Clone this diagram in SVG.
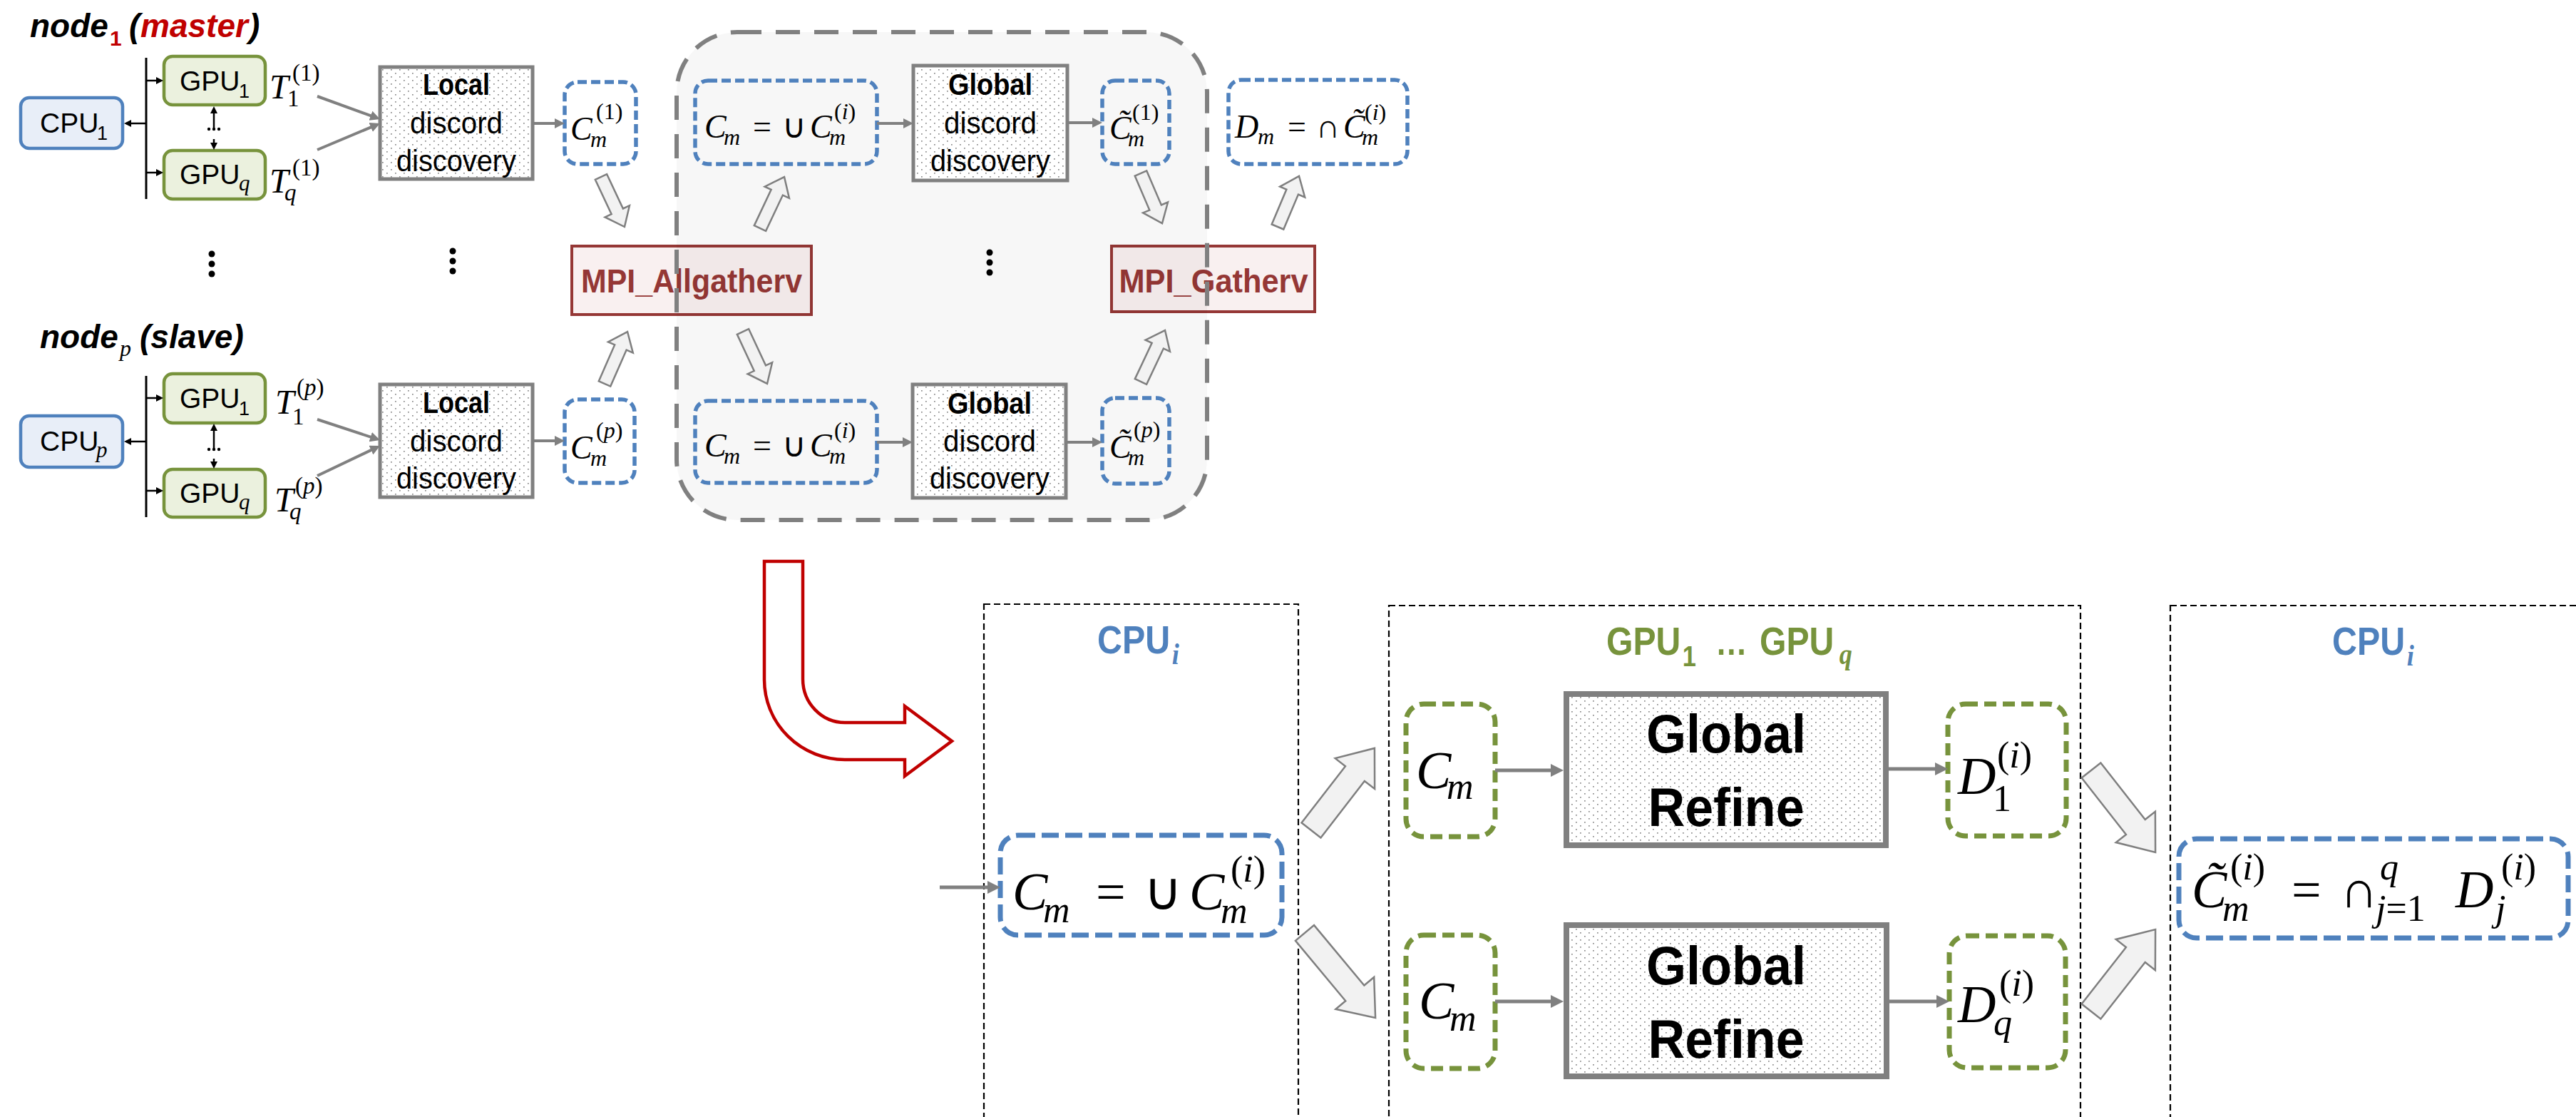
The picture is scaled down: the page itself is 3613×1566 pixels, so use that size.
<svg xmlns="http://www.w3.org/2000/svg" width="3613" height="1566" viewBox="0 0 3613 1566">
<defs>
<style>
.sans{font-family:"Liberation Sans",Arial,sans-serif}
.m{font-family:"Liberation Serif","Times New Roman",serif;font-style:italic}
.u{font-style:normal}
.b{font-weight:bold}
.cpu{fill:#e8eef8;stroke:#4f81bd;stroke-width:4.5}
.gpu{fill:#ebf1de;stroke:#77933c;stroke-width:4.5}
.proc{fill:url(#dots);stroke:#808080;stroke-width:5}
.procL{fill:url(#dots);stroke:#808080;stroke-width:8}
.setb{fill:none;stroke:#4f81bd;stroke-width:5.5;stroke-dasharray:13 6}
.setbL{fill:#fff;stroke:#4f81bd;stroke-width:7;stroke-dasharray:24 9}
.setg{fill:#fff;stroke:#77933c;stroke-width:7;stroke-dasharray:17 9}
.mpi{fill:#f9f0f0;stroke:#953735;stroke-width:4}
.mpit{fill:#953735;font-weight:bold;font-size:46px}
.panel{fill:none;stroke:#000;stroke-width:2.2;stroke-dasharray:9 5}
.blk{fill:#f2f2f2;stroke:#7f7f7f;stroke-width:2.5}
.cg{stroke:#808080;stroke-width:4;fill:none;marker-end:url(#ag)}
.cgL{stroke:#808080;stroke-width:5;fill:none;marker-end:url(#agL)}
.ck{stroke:#000;stroke-width:2.5;fill:none;marker-end:url(#ab)}
.dot{fill:#000}
</style>
<pattern id="dots" width="12" height="10" patternUnits="userSpaceOnUse">
<rect width="12" height="10" fill="#fff"/>
<rect x="2" y="2" width="1.7" height="1.7" fill="#8a8a8a"/>
<rect x="8" y="7" width="1.7" height="1.7" fill="#8a8a8a"/>
</pattern>
<marker id="ag" viewBox="0 0 14 14" markerWidth="14" markerHeight="14" refX="8" refY="7" orient="auto" markerUnits="userSpaceOnUse"><path d="M0,0L14,7L0,14Z" fill="#808080"/></marker>
<marker id="agL" viewBox="0 0 18 18" markerWidth="18" markerHeight="18" refX="11" refY="9" orient="auto" markerUnits="userSpaceOnUse"><path d="M0,0L18,9L0,18Z" fill="#808080"/></marker>
<marker id="ab" viewBox="0 0 10 10" markerWidth="10" markerHeight="10" refX="7" refY="5" orient="auto-start-reverse" markerUnits="userSpaceOnUse"><path d="M0,0L10,5L0,10Z" fill="#000"/></marker>
</defs>
<rect width="3613" height="1566" fill="#fff"/>

<!-- node 1 (master) -->
<g id="node1">
<text class="sans b" font-style="italic" font-size="46" y="52"><tspan x="42">node</tspan><tspan x="154" y="64" font-size="30" font-style="normal" fill="#c00000">1</tspan><tspan x="181" y="52">(</tspan><tspan x="197" fill="#c00000">master</tspan><tspan x="349">)</tspan></text>
<line x1="205" y1="81" x2="205" y2="279" stroke="#000" stroke-width="3"/>
<rect class="cpu" x="29" y="137" width="143" height="71" rx="12"/>
<text class="sans" font-size="39" y="186"><tspan x="56">CPU</tspan><tspan x="136" y="196" font-size="27">1</tspan></text>
<rect class="gpu" x="230" y="79" width="142" height="68" rx="12"/>
<text class="sans" font-size="39" y="127"><tspan x="252">GPU</tspan><tspan x="335" y="137" font-size="27">1</tspan></text>
<rect class="gpu" x="230" y="211" width="142" height="68" rx="12"/>
<text class="sans" font-size="39" y="258"><tspan x="252">GPU</tspan><tspan class="m" x="335" y="267" font-size="31">q</tspan></text>
<line class="ck" x1="205" y1="173" x2="177" y2="173"/>
<line class="ck" x1="205" y1="113" x2="226" y2="113"/>
<line class="ck" x1="205" y1="242" x2="226" y2="242"/>
<line class="ck" x1="300" y1="152" x2="300" y2="207" marker-start="url(#ab)"/>
<rect x="277" y="183" width="46" height="12" fill="#fff"/>
<circle class="dot" cx="293" cy="181" r="2.2"/><circle class="dot" cx="300" cy="181" r="2.2"/><circle class="dot" cx="307" cy="181" r="2.2"/>
<text class="m" font-size="48"><tspan x="378" y="138">T</tspan><tspan class="u" x="403" y="149" font-size="33">1</tspan><tspan class="u" x="410" y="113" font-size="33">(1)</tspan></text>
<text class="m" font-size="48"><tspan x="378" y="270">T</tspan><tspan x="399" y="281" font-size="33">q</tspan><tspan class="u" x="410" y="246" font-size="33">(1)</tspan></text>
</g>

<g id="local1">
<rect class="proc" x="533" y="94" width="214" height="157"/>
<text class="sans b" font-size="42" x="640" y="133" text-anchor="middle" textLength="94" lengthAdjust="spacingAndGlyphs">Local</text>
<text class="sans" font-size="42" x="640" y="187" text-anchor="middle" textLength="130" lengthAdjust="spacingAndGlyphs">discord</text>
<text class="sans" font-size="42" x="640" y="240" text-anchor="middle" textLength="168" lengthAdjust="spacingAndGlyphs">discovery</text>
</g>

<g id="cand1">
<rect class="setb" x="792" y="115" width="100" height="115" rx="18"/>
<text class="m" font-size="46"><tspan x="800" y="196">C</tspan><tspan x="828" y="206" font-size="32">m</tspan><tspan class="u" x="836" y="167" font-size="32">(1)</tspan></text>
</g>

<!-- node p (slave) -->
<g id="nodep">
<text class="sans b" font-style="italic" font-size="46" y="488"><tspan x="56">node</tspan><tspan class="m" font-weight="normal" x="168" y="499" font-size="32">p</tspan><tspan x="196" y="488">(slave)</tspan></text>
<line x1="205" y1="527" x2="205" y2="725" stroke="#000" stroke-width="3"/>
<rect class="cpu" x="29" y="583" width="143" height="72" rx="12"/>
<text class="sans" font-size="39" y="632"><tspan x="56">CPU</tspan><tspan class="m" x="135" y="641" font-size="31">p</tspan></text>
<rect class="gpu" x="230" y="524" width="142" height="69" rx="12"/>
<text class="sans" font-size="39" y="572"><tspan x="252">GPU</tspan><tspan x="335" y="582" font-size="27">1</tspan></text>
<rect class="gpu" x="230" y="658" width="142" height="67" rx="12"/>
<text class="sans" font-size="39" y="705"><tspan x="252">GPU</tspan><tspan class="m" x="335" y="714" font-size="31">q</tspan></text>
<line class="ck" x1="205" y1="619" x2="177" y2="619"/>
<line class="ck" x1="205" y1="558" x2="226" y2="558"/>
<line class="ck" x1="205" y1="688" x2="226" y2="688"/>
<line class="ck" x1="300" y1="597" x2="300" y2="654" marker-start="url(#ab)"/>
<rect x="277" y="632" width="46" height="11" fill="#fff"/>
<circle class="dot" cx="293" cy="630" r="2.2"/><circle class="dot" cx="300" cy="630" r="2.2"/><circle class="dot" cx="307" cy="630" r="2.2"/>
<text class="m" font-size="48"><tspan x="386" y="580">T</tspan><tspan class="u" x="410" y="595" font-size="33">1</tspan><tspan x="416" y="554" font-size="33"><tspan class="u">(</tspan>p<tspan class="u">)</tspan></tspan></text>
<text class="m" font-size="48"><tspan x="385" y="717">T</tspan><tspan x="406" y="728" font-size="33">q</tspan><tspan x="414" y="692" font-size="33"><tspan class="u">(</tspan>p<tspan class="u">)</tspan></tspan></text>
</g>

<g id="localp">
<rect class="proc" x="533" y="539" width="214" height="158"/>
<text class="sans b" font-size="42" x="640" y="579" text-anchor="middle" textLength="94" lengthAdjust="spacingAndGlyphs">Local</text>
<text class="sans" font-size="42" x="640" y="633" text-anchor="middle" textLength="130" lengthAdjust="spacingAndGlyphs">discord</text>
<text class="sans" font-size="42" x="640" y="685" text-anchor="middle" textLength="168" lengthAdjust="spacingAndGlyphs">discovery</text>
</g>

<g id="candp">
<rect class="setb" x="792" y="560" width="98" height="117" rx="18"/>
<text class="m" font-size="46"><tspan x="800" y="643">C</tspan><tspan x="828" y="653" font-size="32">m</tspan><tspan x="836" y="614" font-size="32"><tspan class="u">(</tspan>p<tspan class="u">)</tspan></tspan></text>
</g>

<!-- vertical ellipses between node rows -->
<g id="ellipses">
<circle class="dot" cx="297" cy="356" r="4.5"/><circle class="dot" cx="297" cy="370" r="4.5"/><circle class="dot" cx="297" cy="384" r="4.5"/>
<circle class="dot" cx="635" cy="352" r="4.5"/><circle class="dot" cx="635" cy="366" r="4.5"/><circle class="dot" cx="635" cy="380" r="4.5"/>
<circle class="dot" cx="1388" cy="354" r="4.5"/><circle class="dot" cx="1388" cy="368" r="4.5"/><circle class="dot" cx="1388" cy="382" r="4.5"/>
</g>

<!-- collective communication -->
<g id="allgatherv">
<rect class="mpi" x="802" y="345" width="336" height="96"/>
<text class="sans mpit" x="970" y="410" text-anchor="middle" textLength="310" lengthAdjust="spacingAndGlyphs">MPI_Allgatherv</text>
</g>
<g id="gatherv">
<rect class="mpi" x="1559" y="345" width="285" height="92"/>
<text class="sans mpit" x="1702" y="410" text-anchor="middle" textLength="265" lengthAdjust="spacingAndGlyphs">MPI_Gatherv</text>
</g>

<!-- global phase region -->
<g id="global-phase">
<rect x="949" y="45" width="744" height="684" rx="85" fill="#000" fill-opacity="0.03" stroke="#808080" stroke-width="6" stroke-dasharray="34 20"/>
</g>

<g id="union1">
<rect class="setb" x="975" y="113" width="255" height="117" rx="18"/>
<text class="m" font-size="46"><tspan x="988" y="193">C</tspan><tspan x="1015" y="203" font-size="32">m</tspan><tspan class="u" x="1056" y="193">=</tspan><tspan class="u" x="1097" y="193">∪</tspan><tspan x="1136" y="193">C</tspan><tspan x="1163" y="203" font-size="32">m</tspan><tspan x="1170" y="167" font-size="32"><tspan class="u">(</tspan>i<tspan class="u">)</tspan></tspan></text>
</g>
<g id="global1">
<rect class="proc" x="1281" y="92" width="216" height="161"/>
<text class="sans b" font-size="42" x="1389" y="133" text-anchor="middle" textLength="118" lengthAdjust="spacingAndGlyphs">Global</text>
<text class="sans" font-size="42" x="1389" y="187" text-anchor="middle" textLength="130" lengthAdjust="spacingAndGlyphs">discord</text>
<text class="sans" font-size="42" x="1389" y="240" text-anchor="middle" textLength="168" lengthAdjust="spacingAndGlyphs">discovery</text>
</g>
<g id="refined1">
<rect class="setb" x="1546" y="113" width="94" height="117" rx="18"/>
<text class="m" font-size="46"><tspan x="1556" y="195">C&#x303;</tspan><tspan x="1582" y="205" font-size="32">m</tspan><tspan class="u" x="1588" y="168" font-size="32">(1)</tspan></text>
</g>

<g id="unionp">
<rect class="setb" x="975" y="562" width="255" height="115" rx="18"/>
<text class="m" font-size="46"><tspan x="988" y="640">C</tspan><tspan x="1015" y="650" font-size="32">m</tspan><tspan class="u" x="1056" y="640">=</tspan><tspan class="u" x="1097" y="640">∪</tspan><tspan x="1136" y="640">C</tspan><tspan x="1163" y="650" font-size="32">m</tspan><tspan x="1170" y="614" font-size="32"><tspan class="u">(</tspan>i<tspan class="u">)</tspan></tspan></text>
</g>
<g id="globalp">
<rect class="proc" x="1280" y="539" width="215" height="159"/>
<text class="sans b" font-size="42" x="1388" y="580" text-anchor="middle" textLength="118" lengthAdjust="spacingAndGlyphs">Global</text>
<text class="sans" font-size="42" x="1388" y="633" text-anchor="middle" textLength="130" lengthAdjust="spacingAndGlyphs">discord</text>
<text class="sans" font-size="42" x="1388" y="685" text-anchor="middle" textLength="168" lengthAdjust="spacingAndGlyphs">discovery</text>
</g>
<g id="refinedp">
<rect class="setb" x="1546" y="558" width="94" height="120" rx="18"/>
<text class="m" font-size="46"><tspan x="1556" y="642">C&#x303;</tspan><tspan x="1582" y="652" font-size="32">m</tspan><tspan x="1590" y="613" font-size="32"><tspan class="u">(</tspan>p<tspan class="u">)</tspan></tspan></text>
</g>

<g id="discords">
<rect class="setb" x="1723" y="112" width="251" height="118" rx="18"/>
<text class="m" font-size="46"><tspan x="1732" y="193">D</tspan><tspan x="1764" y="202" font-size="32">m</tspan><tspan class="u" x="1806" y="193">=</tspan><tspan class="u" x="1846" y="193">∩</tspan><tspan x="1884" y="193">C&#x303;</tspan><tspan x="1910" y="203" font-size="32">m</tspan><tspan x="1914" y="168" font-size="32"><tspan class="u">(</tspan>i<tspan class="u">)</tspan></tspan></text>
</g>

<!-- expansion of one node's global step -->
<g id="zoom-arrow">
<path d="M1072,787V953A113,112 0 0 0 1185,1065H1269V1088L1335,1039L1269,990V1013H1185A59,61 0 0 1 1126,952V787Z" fill="#fff" stroke="#c00000" stroke-width="4.5" stroke-linejoin="miter"/>
</g>

<g id="panel-cpu-in">
<rect class="panel" x="1380" y="847" width="441" height="760"/>
<text class="sans b" font-size="56" fill="#4f81bd" transform="translate(1539,916) scale(0.865,1)">CPU<tspan class="m" font-size="42" x="121" y="15">i</tspan></text>
</g>
<g id="panel-gpu">
<rect class="panel" x="1948" y="849" width="970" height="760"/>
<text class="sans b" font-size="56" fill="#77933c" transform="translate(2253,918) scale(0.86,1)">GPU<tspan font-size="40" x="124" y="16">1</tspan><tspan font-size="52" x="178" y="0">…</tspan><tspan x="250" y="0">GPU</tspan><tspan class="m" font-size="42" x="380" y="13">q</tspan></text>
</g>
<g id="panel-cpu-out">
<rect class="panel" x="3044" y="849" width="700" height="760"/>
<text class="sans b" font-size="56" fill="#4f81bd" transform="translate(3271,918) scale(0.865,1)">CPU<tspan class="m" font-size="42" x="121" y="15">i</tspan></text>
</g>

<g id="union-cpu">
<rect class="setbL" x="1403" y="1171" width="395" height="140" rx="25"/>
<text class="m" font-size="74"><tspan x="1420" y="1275">C</tspan><tspan x="1463" y="1293" font-size="52">m</tspan><tspan class="u" x="1537" y="1275">=</tspan><tspan class="u" x="1604" y="1275">∪</tspan><tspan x="1668" y="1275">C</tspan><tspan x="1712" y="1294" font-size="52">m</tspan><tspan x="1726" y="1236" font-size="52"><tspan class="u">(</tspan>i<tspan class="u">)</tspan></tspan></text>
</g>

<g id="cm-gpu1">
<rect class="setg" x="1972" y="987" width="125" height="186" rx="25"/>
<text class="m" font-size="74"><tspan x="1986" y="1105">C</tspan><tspan x="2029" y="1120" font-size="52">m</tspan></text>
</g>
<g id="refine-gpu1">
<rect class="procL" x="2197" y="973" width="448" height="212"/>
<text class="sans b" font-size="76" x="2421" y="1055" text-anchor="middle" textLength="224" lengthAdjust="spacingAndGlyphs">Global</text>
<text class="sans b" font-size="76" x="2421" y="1158" text-anchor="middle" textLength="219" lengthAdjust="spacingAndGlyphs">Refine</text>
</g>
<g id="d-gpu1">
<rect class="setg" x="2732" y="987" width="166" height="185" rx="25"/>
<text class="m" font-size="74"><tspan x="2746" y="1113">D</tspan><tspan class="u" x="2795" y="1137" font-size="52">1</tspan><tspan x="2801" y="1076" font-size="52"><tspan class="u">(</tspan>i<tspan class="u">)</tspan></tspan></text>
</g>

<g id="cm-gpuq">
<rect class="setg" x="1972" y="1311" width="125" height="187" rx="25"/>
<text class="m" font-size="74"><tspan x="1990" y="1428">C</tspan><tspan x="2033" y="1445" font-size="52">m</tspan></text>
</g>
<g id="refine-gpuq">
<rect class="procL" x="2197" y="1297" width="449" height="212"/>
<text class="sans b" font-size="76" x="2421" y="1380" text-anchor="middle" textLength="224" lengthAdjust="spacingAndGlyphs">Global</text>
<text class="sans b" font-size="76" x="2421" y="1483" text-anchor="middle" textLength="219" lengthAdjust="spacingAndGlyphs">Refine</text>
</g>
<g id="d-gpuq">
<rect class="setg" x="2734" y="1312" width="163" height="185" rx="25"/>
<text class="m" font-size="74"><tspan x="2746" y="1433">D</tspan><tspan x="2796" y="1451" font-size="52">q</tspan><tspan x="2804" y="1396" font-size="52"><tspan class="u">(</tspan>i<tspan class="u">)</tspan></tspan></text>
</g>

<g id="intersect-cpu">
<rect class="setbL" x="3056" y="1176" width="546" height="139" rx="25"/>
<text class="m" font-size="74"><tspan x="3074" y="1272">C&#x303;</tspan><tspan x="3117" y="1291" font-size="52">m</tspan><tspan x="3128" y="1233" font-size="52"><tspan class="u">(</tspan>i<tspan class="u">)</tspan></tspan><tspan class="u" x="3214" y="1272">=</tspan><tspan class="u" x="3282" y="1272">∩</tspan><tspan x="3338" y="1233" font-size="52">q</tspan><tspan x="3332" y="1291" font-size="52">j<tspan class="u">=1</tspan></tspan><tspan x="3444" y="1272">D</tspan><tspan x="3500" y="1291" font-size="52">j</tspan><tspan x="3508" y="1233" font-size="52"><tspan class="u">(</tspan>i<tspan class="u">)</tspan></tspan></text>
</g>

<!-- connectors -->
<g id="connectors">
<line class="cg" x1="445" y1="135" x2="527.4" y2="164.9"/>
<line class="cg" x1="445" y1="210" x2="527.5" y2="175.3"/>
<line class="cg" x1="445" y1="588" x2="527.3" y2="615.1"/>
<line class="cg" x1="445" y1="667" x2="527.6" y2="627.6"/>
<line class="cg" x1="747" y1="173" x2="786" y2="173"/>
<line class="cg" x1="747" y1="618" x2="786" y2="618"/>
<line class="cg" x1="1230" y1="173" x2="1275" y2="173"/>
<line class="cg" x1="1497" y1="172" x2="1540" y2="172"/>
<line class="cg" x1="1230" y1="620" x2="1274" y2="620"/>
<line class="cg" x1="1495" y1="620" x2="1540" y2="620"/>
<line class="cgL" x1="1318" y1="1244" x2="1396" y2="1244"/>
<line class="cgL" x1="2097" y1="1080" x2="2186" y2="1080"/>
<line class="cgL" x1="2649" y1="1078" x2="2725" y2="1078"/>
<line class="cgL" x1="2097" y1="1404" x2="2186" y2="1404"/>
<line class="cgL" x1="2650" y1="1404" x2="2727" y2="1404"/>
<!-- block arrows (data movement) -->
<path class="blk" stroke-width="2" transform="translate(843,248) rotate(64.8)" d="M0,-9H53.4V-19L77.4,0L53.4,19V9H0Z"/>
<path class="blk" stroke-width="2" transform="translate(848,538) rotate(-66.3)" d="M0,-9H55.7V-19L79.7,0L55.7,19V9H0Z"/>
<path class="blk" stroke-width="2" transform="translate(1066,320) rotate(-64.7)" d="M0,-9H55.6V-19L79.6,0L55.6,19V9H0Z"/>
<path class="blk" stroke-width="2" transform="translate(1042,465) rotate(65)" d="M0,-9H56.5V-19L80.5,0L56.5,19V9H0Z"/>
<path class="blk" stroke-width="2" transform="translate(1600,243) rotate(66.8)" d="M0,-9H52.2V-19L76.2,0L52.2,19V9H0Z"/>
<path class="blk" stroke-width="2" transform="translate(1600,535) rotate(-64.7)" d="M0,-9H55.6V-19L79.6,0L55.6,19V9H0Z"/>
<path class="blk" stroke-width="2" transform="translate(1792,318) rotate(-67.1)" d="M0,-9H53.1V-19L77.1,0L53.1,19V9H0Z"/>
<path class="blk" transform="translate(1839,1164) rotate(-52.3)" d="M0,-17H100.4V-35L145.4,0L100.4,35V17H0Z"/>
<path class="blk" transform="translate(1830,1308) rotate(50.2)" d="M0,-17H109.8V-35L154.8,0L109.8,35V17H0Z"/>
<path class="blk" transform="translate(2933,1080) rotate(51.9)" d="M0,-17H101V-35L146,0L101,35V17H0Z"/>
<path class="blk" transform="translate(2933,1418) rotate(-51.9)" d="M0,-17H101V-35L146,0L101,35V17H0Z"/>
</g>
</svg>
